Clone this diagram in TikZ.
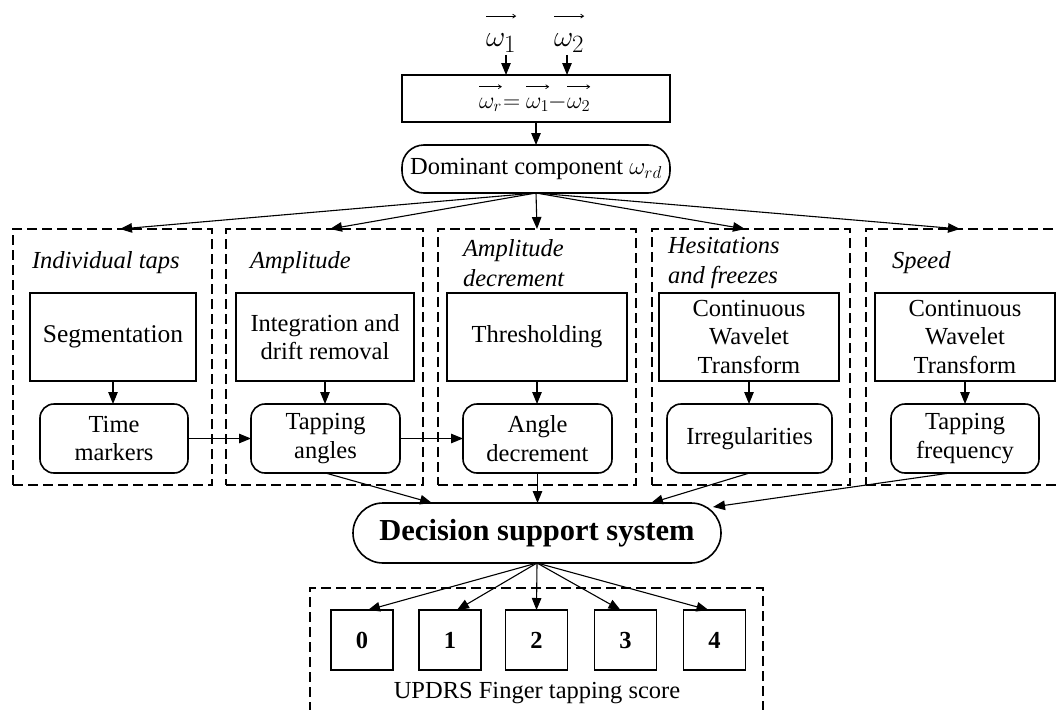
\documentclass[tikz,border=0pt]{standalone}
\usepackage{graphicx}
\usepackage{fontspec}
\setmainfont{Liberation Serif}
\usetikzlibrary{arrows.meta,calc}
\newcommand{\bigmath}[2]{\scalebox{#1}{$#2$}}
\begin{document}
\begin{tikzpicture}[x=1pt,y=-1pt,
  every node/.style={font=\fontsize{24.5}{28.5}\selectfont, inner sep=0pt, outer sep=0pt},
  solidbox/.style={draw, line width=1.6pt, align=center},
  roundbox/.style={draw, line width=1.6pt, rounded corners=14pt, align=center},
  groupbox/.style={draw, line width=1.4pt, dash pattern=on 10pt off 5pt},
  grouptitle/.style={font=\itshape\fontsize{24.5}{29.5}\selectfont, align=left, anchor=west},
  arr/.style={-{Triangle[length=12pt,width=9.5pt]}, line width=1.1pt},
  vecarrow/.style={-{Straight Barb[length=3pt,width=4pt]}, line width=0.7pt},
  eqpart/.style={anchor=base west, font=\fontsize{20.74}{24}\selectfont},
  toppart/.style={anchor=base west, font=\fontsize{24.88}{28}\selectfont},
  scorebox/.style={draw, line width=1.6pt, minimum width=62pt, minimum height=60pt, font=\bfseries\fontsize{24.5}{28}\selectfont},
]
\useasboundingbox (0,0) rectangle (1056,709);

% top inputs
\node[toppart] (w1) at (486,47) {\bigmath{1.2}{\omega_1}};
\node[toppart] (w2) at (554,47) {\bigmath{1.2}{\omega_2}};
\draw[vecarrow] ([yshift=18pt]w1.north west) -- ([yshift=18pt]w1.north east);
\draw[vecarrow] ([yshift=18pt]w2.north west) -- ([yshift=18pt]w2.north east);
\coordinate (a1) at (506,55);
\coordinate (a2) at (567,55);
\node[solidbox, minimum width=268pt, minimum height=47pt] (eq) at (536,98.5) {};
\node[eqpart] (er) at (479,108) {\bigmath{1.15}{\omega_r}};
\node[eqpart] (eqs) at (503,108) {\bigmath{1.15}{=}};
\node[eqpart] (e1) at (526,108) {\bigmath{1.15}{\omega_1}};
\node[eqpart] (mi) at (548,108) {\bigmath{1.15}{-}};
\node[eqpart] (e2) at (567,108) {\bigmath{1.15}{\omega_2}};
\draw[vecarrow] ([yshift=11pt]er.north west) -- ([yshift=11pt]er.north east);
\draw[vecarrow] ([yshift=11pt]e1.north west) -- ([yshift=11pt]e1.north east);
\draw[vecarrow] ([yshift=11pt]e2.north west) -- ([yshift=11pt]e2.north east);
\draw[arr] (a1) -- (a1 |- eq.north);
\draw[arr] (a2) -- (a2 |- eq.north);

\node[draw, line width=1.6pt, rounded corners=22pt, minimum width=268pt, minimum height=48pt] (dom) at (536,169)
  {Dominant component $\omega_{rd}$};
\draw[arr] (eq.south -| dom.north) -- (dom.north);

% group boxes
\node[groupbox, minimum width=199pt, minimum height=256pt] (g1) at (112.5,357) {};
\node[groupbox, minimum width=197pt, minimum height=256pt] (g2) at (324.5,357) {};
\node[groupbox, minimum width=198pt, minimum height=256pt] (g3) at (537,357) {};
\node[groupbox, minimum width=198pt, minimum height=256pt] (g4) at (751,357) {};
\node[groupbox, minimum width=198pt, minimum height=256pt] (g5) at (965,357) {};

\node[grouptitle] (t1) at (32,263) {Individual taps};
\node[grouptitle] (t2) at (250,263) {Amplitude};
\node[grouptitle] (t3) at (463,263) {Amplitude\\decrement};
\node[grouptitle] (t4) at (668,263) {Hesitations\\and freezes};
\node[grouptitle] (t5) at (892,263) {Speed};

\draw[arr] (dom.south) -- ([xshift=7.5pt]g1.north);
\draw[arr] (dom.south) -- ([xshift=5.5pt]g2.north);
\draw[arr] (dom.south) -- (g3.north);
\draw[arr] (dom.south) -- ([xshift=-6pt]g4.north);
\draw[arr] (dom.south) -- ([xshift=-5pt]g5.north);

% processing boxes
\node[solidbox, minimum width=166pt, minimum height=88pt] (r1) at (113,337) {\fontsize{25.5}{29}\selectfont Segmentation};
\node[solidbox, minimum width=178pt, minimum height=88pt] (r2) at (325,337) {Integration and\\drift removal};
\node[solidbox, minimum width=180pt, minimum height=88pt] (r3) at (537,337) {Thresholding};
\node[solidbox, minimum width=180pt, minimum height=88pt] (r4) at (749,337) {Continuous\\Wavelet\\Transform};
\node[solidbox, minimum width=180pt, minimum height=88pt] (r5) at (965,337) {Continuous\\Wavelet\\Transform};

\node[roundbox, minimum width=148pt, minimum height=69pt] (n1) at (114,438.5) {Time\\markers};
\node[roundbox, minimum width=149pt, minimum height=69pt] (n2) at (325.5,438.5) {Tapping\\angles};
\node[roundbox, minimum width=149pt, minimum height=69pt] (n3) at (537.5,438.5) {Angle\\decrement};
\node[roundbox, minimum width=165pt, minimum height=69pt] (n4) at (749.5,438.5) {Irregularities};
\node[roundbox, minimum width=148pt, minimum height=69pt] (n5) at (965,438.5) {Tapping\\frequency};

\draw[arr] (r1.south) -- (r1.south |- n1.north);
\draw[arr] (r2.south) -- (r2.south |- n2.north);
\draw[arr] (r3.south) -- (r3.south |- n3.north);
\draw[arr] (r4.south) -- (r4.south |- n4.north);
\draw[arr] (r5.south) -- (r5.south |- n5.north);

\draw[arr] (n1.east) -- (n2.west);
\draw[arr] (n2.east) -- (n3.west);

% decision support system
\node[draw, line width=1.6pt, rounded corners=30pt, minimum width=368pt, minimum height=60pt,
  font=\bfseries\fontsize{30.5}{34}\selectfont] (dss) at (537,533) {Decision support system};

\draw[arr] (n2.south) -- ([xshift=-105pt]dss.north);
\draw[arr] (n3.south) -- (n3.south |- dss.north);
\draw[arr] (n4.south) -- ([xshift=114pt]dss.north);
\draw[arr] ([xshift=-15pt]n5.south) -- ([xshift=-8pt,yshift=-4pt]dss.north east);

% scores
\node[groupbox, minimum width=453pt, minimum height=180pt, anchor=north west] (g6) at (310,588) {};
\node[scorebox] (s0) at (362,640) {0};
\node[scorebox] (s1) at (450,640) {1};
\node[scorebox] (s2) at (536.5,640) {2};
\node[scorebox] (s3) at (625.5,640) {3};
\node[scorebox] (s4) at (714.5,640) {4};
\node (lbl) at (537,693) {UPDRS Finger tapping score};

\draw[arr] (dss.south) -- ([xshift=6pt]s0.north);
\draw[arr] (dss.south) -- ([xshift=7pt]s1.north);
\draw[arr] (dss.south) -- (s2.north);
\draw[arr] (dss.south) -- ([xshift=-5pt]s3.north);
\draw[arr] (dss.south) -- ([xshift=-6pt]s4.north);
\end{tikzpicture}
\end{document}
